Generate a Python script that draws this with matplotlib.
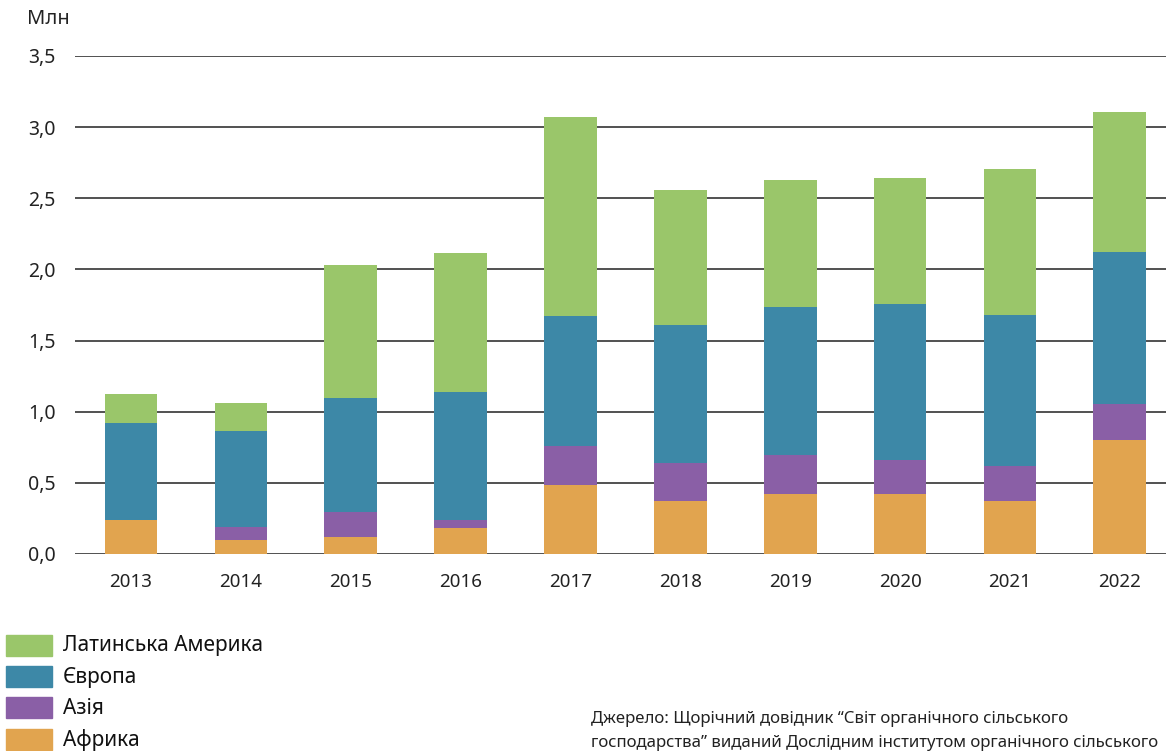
import matplotlib
matplotlib.use("Agg")
import matplotlib.pyplot as plt
from matplotlib.patches import Rectangle

years = ["2013", "2014", "2015", "2016", "2017", "2018", "2019", "2020", "2021", "2022"]
africa = [0.237, 0.096, 0.117, 0.181, 0.484, 0.372, 0.421, 0.421, 0.372, 0.800]
asia = [0.005, 0.092, 0.179, 0.058, 0.274, 0.267, 0.274, 0.241, 0.248, 0.255]
europe = [0.678, 0.676, 0.800, 0.899, 0.912, 0.968, 1.038, 1.092, 1.057, 1.071]
latam = [0.204, 0.197, 0.935, 0.977, 1.404, 0.954, 0.899, 0.892, 1.032, 0.983]
series_names = ["Латинська Америка", "Європа", "Азія", "Африка"]
yticks = [0.0, 0.5, 1.0, 1.5, 2.0, 2.5, 3.0, 3.5]
ytick_labels = ["0,0", "0,5", "1,0", "1,5", "2,0", "2,5", "3,0", "3,5"]

colors = {"Африка": "#E1A44F", "Азія": "#8A5FA6", "Європа": "#3D88A7", "Латинська Америка": "#9AC66A"}

plt.rcParams['font.family'] = ['Noto Sans', 'DejaVu Sans']

fig = plt.figure(figsize=(11.66, 7.51), dpi=100)
ax = fig.add_axes([75/1166, 1-554/751, 1-75/1166, (554-56)/751])

x = list(range(len(years)))
w = 0.48
bottom = [0.0]*len(years)
for name, vals in [("Африка", africa), ("Азія", asia), ("Європа", europe), ("Латинська Америка", latam)]:
    ax.bar(x, vals, w, bottom=bottom, color=colors[name], zorder=3, linewidth=0)
    bottom = [b + v for b, v in zip(bottom, vals)]

ax.set_ylim(0, 3.5)
ax.set_xlim(-0.51, 9.42)
ax.set_yticks(yticks)
ax.set_yticklabels(ytick_labels, fontsize=14, color="#222222")
ax.set_xticks(x)
ax.set_xticklabels(years, fontsize=13.5, color="#222222")
ax.tick_params(axis='both', length=0)
ax.tick_params(axis='y', pad=14)
ax.tick_params(axis='x', pad=14)
for t in yticks:
    ax.axhline(t, color="#333333", lw=1.2, zorder=2)
for s in ax.spines.values():
    s.set_visible(False)

fig.text(27/1166, 1-19/751, "Млн", fontsize=14.5, color="#222222", va="center", ha="left")

# legend
leg_rows = [646, 677, 708, 740]
for name, yy in zip(series_names, leg_rows):
    fig.patches.append(Rectangle((6/1166, 1-(yy+10)/751), 46/1166, 21/751,
                                 transform=fig.transFigure, color=colors[name], figure=fig))
    fig.text(63/1166, 1-yy/751, name, fontsize=15, color="#111111", va="center", ha="left")

fig.text(591/1166, 1-719/751, "Джерело: Щорічний довідник “Світ органічного сільського",
         fontsize=12.1, color="#222222", va="center", ha="left")
fig.text(591/1166, 1-743/751, "господарства” виданий Дослідним інститутом органічного сільського",
         fontsize=12.1, color="#222222", va="center", ha="left")

fig.savefig("out.png", dpi=100)
